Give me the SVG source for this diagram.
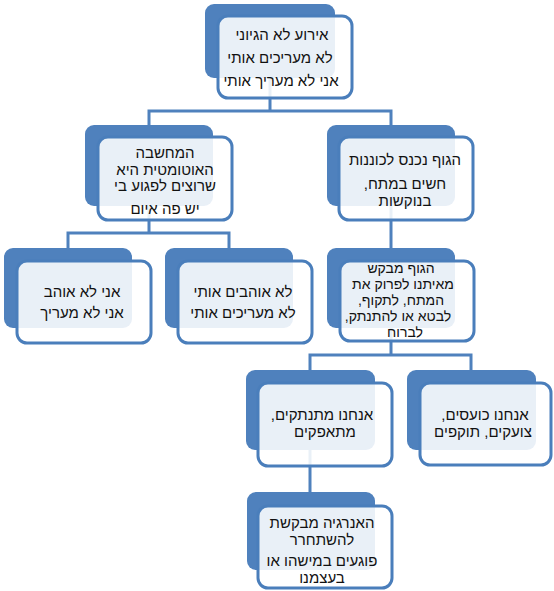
<svg xmlns="http://www.w3.org/2000/svg" width="554" height="591" viewBox="0 0 554 591">
<style>
.back{fill:#4F81BD;}
.front{fill:#FFFFFF;fill-opacity:0.88;stroke:#4A7EBB;stroke-width:3;}
.conn{fill:none;stroke:#4F81BD;stroke-width:3;}
text{font-family:"Liberation Sans","DejaVu Sans",Arial,sans-serif;font-size:15px;fill:#111;text-anchor:middle;direction:rtl;}
.tight{font-size:14px;}
</style>
<rect width="554" height="591" fill="#FFFFFF"/>
<g id="connectors">
<path class="conn" d="M270,78 V111 M149,125 V111 H391 V125"/>
<path class="conn" d="M149,206 V233 M68,248 V233 H229 V248"/>
<path class="conn" d="M391,206 V248"/>
<path class="conn" d="M391,328 V355 M310,370 V355 H471 V370"/>
<path class="conn" d="M310,450 V492"/>
</g>
<g id="n1">
<rect class="back" x="205" y="4" width="130" height="74" rx="9"/>
<rect class="front" x="218" y="16" width="134" height="82" rx="10"/>
<text x="282" y="40">אירוע לא הגיוני</text>
<text x="280" y="63">לא מעריכים אותי</text>
<text x="281" y="86">אני לא מעריך אותי</text>
</g>
<g id="n2l">
<rect class="back" x="85" y="125" width="128" height="81" rx="9"/>
<rect class="front" x="98" y="137" width="134" height="83" rx="10"/>
<text x="165" y="158">המחשבה</text>
<text x="165" y="175">האוטומטית  היא</text>
<text x="165" y="191">שרוצים לפגוע בי</text>
<text x="165" y="214">יש פה איום</text>
</g>
<g id="n2r">
<rect class="back" x="327" y="125" width="128" height="81" rx="9"/>
<rect class="front" x="339" y="137" width="134" height="83" rx="10"/>
<text x="405" y="165">הגוף נכנס לכוננות</text>
<text x="405" y="189">חשים במתח,</text>
<text x="405" y="206">בנוקשות</text>
</g>
<g id="n3a">
<rect class="back" x="4" y="248" width="128" height="80" rx="9"/>
<rect class="front" x="17" y="261" width="134" height="82" rx="10"/>
<text x="82" y="297">אני לא אוהב</text>
<text x="82" y="318">אני לא מעריך</text>
</g>
<g id="n3b">
<rect class="back" x="165" y="248" width="128" height="80" rx="9"/>
<rect class="front" x="178" y="261" width="134" height="82" rx="10"/>
<text x="243" y="297">לא אוהבים אותי</text>
<text x="243" y="318">לא מעריכים אותי</text>
</g>
<g id="n3c">
<rect class="back" x="327" y="248" width="128" height="80" rx="9"/>
<rect class="front" x="340" y="261" width="134" height="80" rx="10"/>
<text class="tight" x="401" y="273">הגוף מבקש</text>
<text class="tight" x="403" y="289">מאיתנו לפרוק את</text>
<text class="tight" x="401" y="305">המתח, לתקוף,</text>
<text class="tight" x="398" y="321">לבטא או להתנתק,</text>
<text class="tight" x="405" y="337">לברוח</text>
</g>
<g id="n4a">
<rect class="back" x="246" y="370" width="129" height="80" rx="9"/>
<rect class="front" x="258" y="383" width="134" height="83" rx="10"/>
<text x="322" y="420">אנחנו מתנתקים,</text>
<text x="325" y="437">מתאפקים</text>
</g>
<g id="n4b">
<rect class="back" x="407" y="370" width="129" height="80" rx="9"/>
<rect class="front" x="420" y="383" width="131" height="82" rx="10"/>
<text x="485" y="420">אנחנו כועסים,</text>
<text x="483" y="437">צועקים,  תוקפים</text>
</g>
<g id="n5">
<rect class="back" x="247" y="492" width="128" height="78" rx="9"/>
<rect class="front" x="258" y="506" width="134" height="82" rx="10"/>
<text x="322" y="528">האנרגיה מבקשת</text>
<text x="322" y="545">להשתחרר</text>
<text x="322" y="566">פוגעים  במישהו או</text>
<text x="322" y="583">בעצמנו</text>
</g>
</svg>
